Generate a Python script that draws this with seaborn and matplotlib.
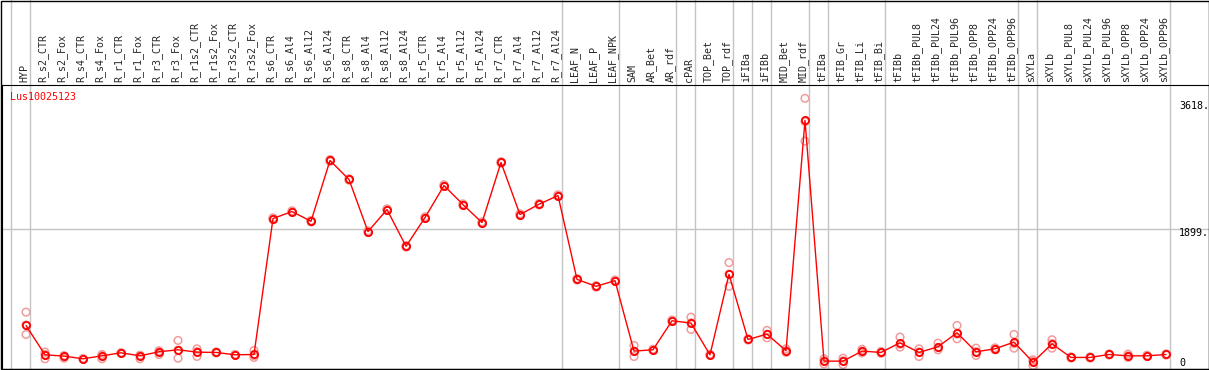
import numpy as np
import pandas as pd
import matplotlib
matplotlib.use("Agg")
import matplotlib.pyplot as plt
import seaborn as sns
from matplotlib.patches import Rectangle
from matplotlib.transforms import ScaledTranslation

# -----------------------------
# Data
# -----------------------------
gene = "Lus10025123"

samples = [
    "HYP", "R_s2_CTR", "R_s2_Fox", "R_s4_CTR", "R_s4_Fox", "R_r1_CTR", "R_r1_Fox",
    "R_r3_CTR", "R_r3_Fox", "R_r1s2_CTR", "R_r1s2_Fox", "R_r3s2_CTR", "R_r3s2_Fox",
    "R_s6_CTR", "R_s6_Al4", "R_s6_Al12", "R_s6_Al24", "R_s8_CTR", "R_s8_Al4",
    "R_s8_Al12", "R_s8_Al24", "R_r5_CTR", "R_r5_Al4", "R_r5_Al12", "R_r5_Al24",
    "R_r7_CTR", "R_r7_Al4", "R_r7_Al12", "R_r7_Al24", "LEAF_N", "LEAF_P", "LEAF_NPK",
    "SAM", "AR_Bet", "AR_rdf", "cPAR", "TOP_Bet", "TOP_rdf", "iFIBa", "iFIBb",
    "MID_Bet", "MID_rdf", "tFIBa", "tFIB_Gr", "tFIB_Li", "tFIB_Bi", "tFIBb",
    "tFIBb_PUL8", "tFIBb_PUL24", "tFIBb_PUL96", "tFIBb_OPP8", "tFIBb_OPP24",
    "tFIBb_OPP96", "sXYLa", "sXYLb", "sXYLb_PUL8", "sXYLb_PUL24", "sXYLb_PUL96",
    "sXYLb_OPP8", "sXYLb_OPP24", "sXYLb_OPP96",
]

means = [
    584, 186, 168, 132, 172, 213, 172, 227, 254, 222, 218, 186, 190,
    2035, 2130, 1998, 2823, 2565, 1858, 2157, 1658,
    2048, 2483, 2224, 1980, 2796, 2089, 2229, 2347,
    1210, 1115, 1192, 236, 254, 648, 616, 186, 1278, 394, 466, 241, 3367,
    100, 100, 236, 218, 349, 218, 295, 485, 227, 267, 358,
    86, 335, 150, 150, 190, 172, 172, 190,
]

replicates = [
    [765, 590, 462], [222, 190, 132], [175, 160, 140], [135, 130, 128],
    [190, 180, 132], [215, 212, 210], [180, 175, 132], [240, 232, 190],
    [381, 250, 140], [267, 230, 164], [225, 218, 210], [190, 186, 182],
    [245, 175, 150],
    [2045, 2035, 2025], [2140, 2130, 2120], [2008, 1998, 1988], [2835, 2823, 2811],
    [2575, 2565, 2555], [1868, 1858, 1848], [2167, 2157, 2147], [1668, 1658, 1648],
    [2058, 2048, 2038], [2493, 2483, 2473], [2234, 2224, 2214], [1990, 1980, 1970],
    [2806, 2796, 2786], [2099, 2089, 2079], [2239, 2229, 2219], [2357, 2347, 2337],
    [1220, 1210, 1200], [1125, 1115, 1105], [1202, 1192, 1182],
    [313, 236, 163], [262, 254, 246], [658, 648, 638], [697, 620, 530],
    [194, 186, 178], [1437, 1280, 1115], [402, 394, 386], [517, 466, 417],
    [267, 240, 218], [3666, 3350, 3085],
    [132, 105, 63], [140, 105, 54], [260, 236, 212], [230, 218, 206],
    [426, 330, 290], [267, 225, 163], [344, 287, 254], [584, 468, 403],
    [276, 228, 177], [280, 267, 254], [462, 336, 276],
    [118, 99, 41], [390, 339, 276], [158, 150, 142], [158, 150, 142],
    [198, 190, 182], [195, 172, 150], [180, 172, 164], [198, 190, 182],
]

# last sample index of each tissue group (gray separators)
group_ends = [-1, 0, 28, 31, 34, 35, 37, 38, 39, 41, 42, 45, 52, 53, 60]

y_marks = [3618, 1899, 0]
y_mark_labels = ["3618.", "1899.", "0"]

# -----------------------------
# Tables
# -----------------------------
pos = np.arange(len(samples))
df_mean = pd.DataFrame({"pos": pos, "expr": means})
df_rep = pd.DataFrame(
    [(i, v) for i, reps in enumerate(replicates) for v in reps],
    columns=["pos", "expr"],
)

# -----------------------------
# Plot
# -----------------------------
sns.set_style("white")
plt.rcParams["font.family"] = ["DejaVu Sans Mono", "DejaVu Sans"]

W, H = 1209, 370
fig = plt.figure(figsize=(W / 100, H / 100), dpi=100)
ax = fig.add_axes([1.5 / W, 1.5 / H, 1207 / W, 283.5 / H])

sns.scatterplot(
    data=df_rep, x="pos", y="expr", ax=ax, s=30, marker="o",
    facecolors="none", edgecolor="#f09c9c", linewidth=1.1, zorder=2,
)
sns.lineplot(
    data=df_mean, x="pos", y="expr", ax=ax, sort=False, color="#ff0000",
    linewidth=1.0, marker="o", markersize=5.2, markerfacecolor="none",
    markeredgecolor="#ff0000", markeredgewidth=1.3, zorder=3,
)

ax.set_xlim((1.5 - 26) / 19, (1208.5 - 26) / 19)
ax.set_ylim(0, 3847)

# separators between groups, extended through the label band
for g in group_ends:
    ax.axvline(g + 4 / 19, ymin=0, ymax=(H - 0.5) / 283.5, color="#c4c4c4",
               linewidth=1.0, clip_on=False, zorder=1)
ax.axhline(1899, color="#c4c4c4", linewidth=1.0, zorder=1)

# sample labels on top
ax.xaxis.tick_top()
ax.set_xticks(pos)
ax.set_xticklabels(samples, rotation=90, fontsize=7.2, va="bottom", ha="center")
ax.tick_params(axis="x", length=0, pad=2)
shift = ScaledTranslation(-2 / 100, 0, fig.dpi_scale_trans)
for lbl in ax.get_xticklabels():
    lbl.set_transform(lbl.get_transform() + shift)
ax.set_yticks([])
ax.set_xlabel("")
ax.set_ylabel("")

# value marks on the right
for v, t in zip(y_marks, y_mark_labels):
    dy = 6 if v == 0 else -4.5
    ax.annotate(t, xy=((1179 - 26) / 19, v), xytext=(0, dy * 0.72),
                textcoords="offset points", va="center", ha="left",
                fontsize=7.2, color="black")

for sp in ax.spines.values():
    sp.set_color("black")
    sp.set_linewidth(0.8)

fig.text(10 / W, 1 - 97.5 / H, gene, color="#ff0000", fontsize=7.2,
         va="center", ha="left")

fig.patches.append(Rectangle((1 / W, 1.5 / H), 1207.5 / W, 368 / H,
                             transform=fig.transFigure, fill=False,
                             edgecolor="black", linewidth=1.0))

fig.savefig("out.png", dpi=100)
